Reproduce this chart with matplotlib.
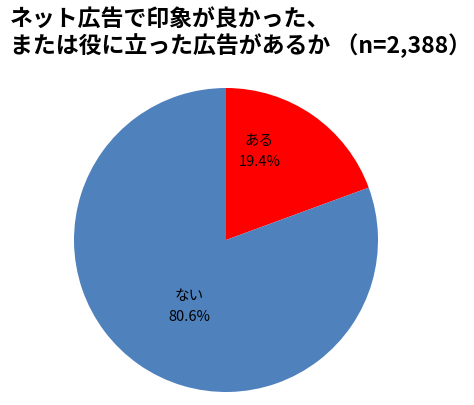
import matplotlib
matplotlib.use('Agg')
import matplotlib.pyplot as plt

plt.rcParams['font.family'] = ['Noto Sans CJK JP', 'DejaVu Sans']

# Data
labels = ['ある', 'ない']
values = [19.4, 80.6]
colors = ['#FF0000', '#4F81BD']
title_lines = ['ネット広告で印象が良かった、', 'または役に立った広告があるか （n=2,388）']

fig = plt.figure(figsize=(4.74, 4.06), dpi=100)
ax = fig.add_axes([74 / 474, 13 / 406, 304 / 474, 304 / 406])

ax.pie(values, colors=colors, startangle=90, counterclock=False,
       wedgeprops={'linewidth': 0})
ax.set_xlim(-1, 1)
ax.set_ylim(-1, 1)
ax.set_aspect('equal')
ax.axis('off')

# Label positions (axes data units)
label_pos = [(0.22, 0.59), (-0.24, -0.43)]
for lab, val, (x, y) in zip(labels, values, label_pos):
    ax.text(x, y, f'{lab}\n{val:.1f}%', ha='center', va='center',
            fontsize=10.5, linespacing=1.6, color='black')

# Title
fig.text(10 / 474, 1 - 19 / 406, title_lines[0], fontsize=16.5, fontweight='bold',
         ha='left', va='center')
fig.text(10 / 474, 1 - 46 / 406, title_lines[1], fontsize=16.5, fontweight='bold',
         ha='left', va='center')

fig.savefig('out.png', dpi=100)
